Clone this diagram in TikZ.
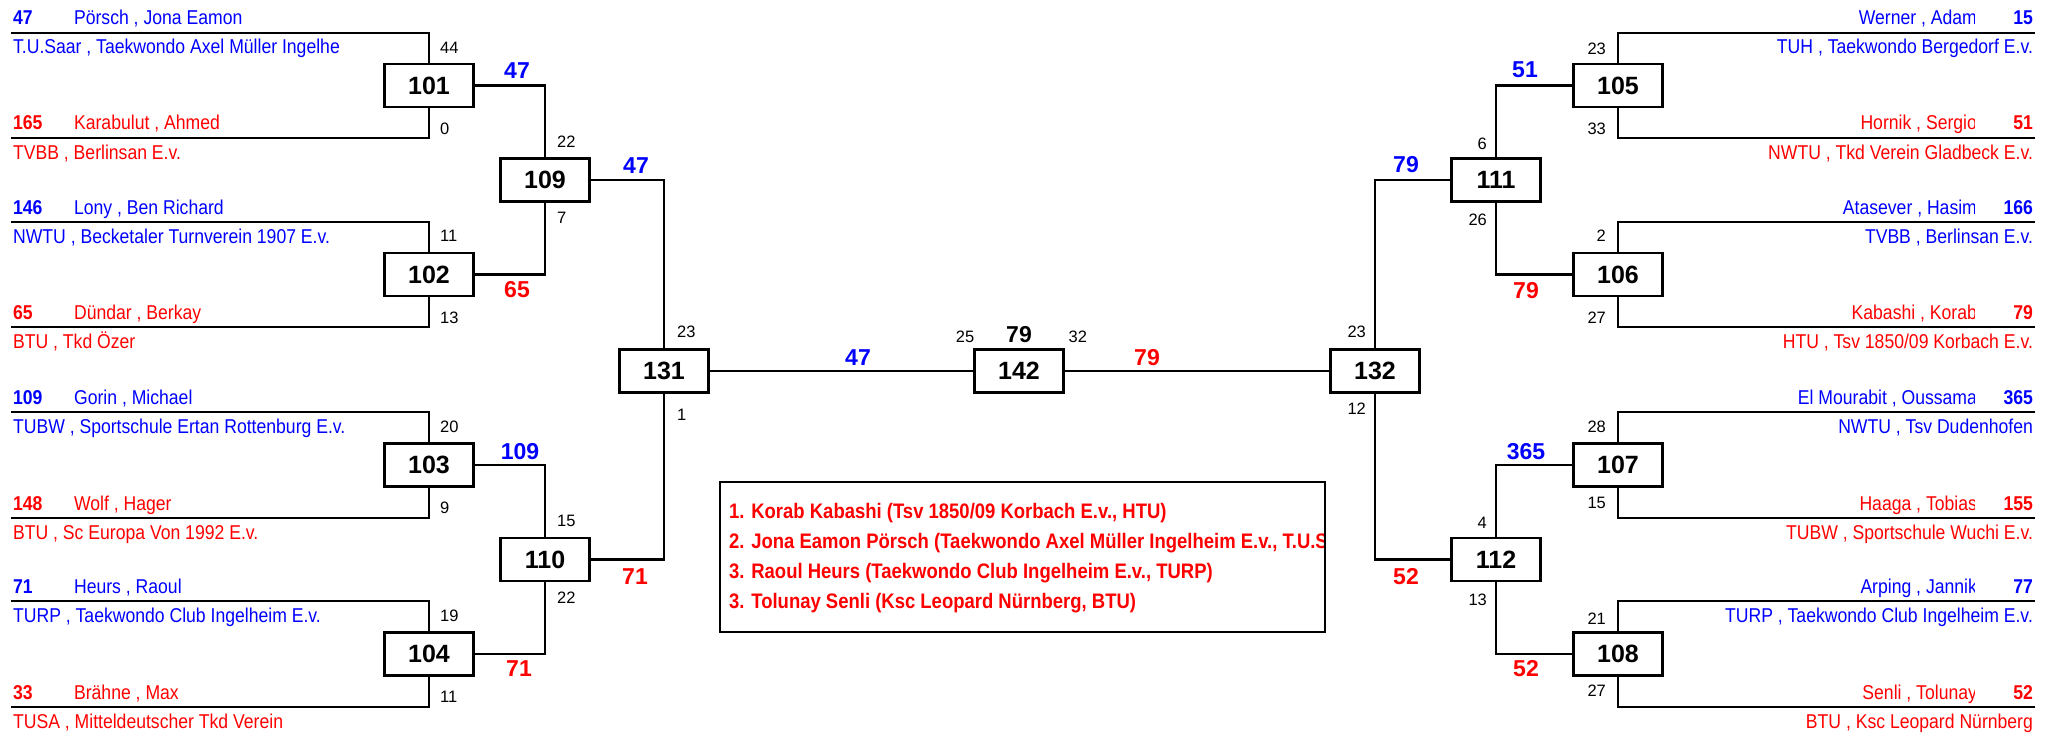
\documentclass[tikz,border=0pt]{standalone}
\usepackage{fontspec}
\setmainfont{Liberation Sans}
\newfontfamily\schmal{Liberation Sans}[FakeStretch=0.88]
\usetikzlibrary{calc}

\begin{document}
\begin{tikzpicture}[x=1pt, y=-1pt, line width=2.2pt,
    kampf/.style={draw, fill=white, minimum width=89pt, minimum height=43pt, inner sep=0pt,
        font=\fontsize{25}{26}\selectfont\bfseries},
    startnr/.style={inner sep=0pt, font=\schmal\fontsize{20}{22}\selectfont\bfseries},
    spieler/.style={inner sep=0pt, font=\schmal\fontsize{20}{22}\selectfont},
    punkte/.style={inner sep=0pt, font=\fontsize{16.5}{18}\selectfont},
    sieger/.style={inner sep=0pt, anchor=base, font=\fontsize{23}{24}\selectfont\bfseries},
    platz/.style={inner sep=0pt, anchor=base west, text=red,
        font=\schmal\fontsize{21}{24}\selectfont\bfseries}]
    \useasboundingbox (0,0) rectangle (2058,733);
    % Spalten der Kampfnummern
    \def\xa{429}
    \def\xb{545}
    \def\xc{664}
    \def\xf{1019}
    \def\xC{1375}
    \def\xB{1496}
    \def\xA{1618}

    % --- KAEMPFE ---
    \node[kampf] (m101) at (\xa,85.5) {101};
    \node[kampf] (m102) at (\xa,274.5) {102};
    \node[kampf] (m103) at (\xa,465) {103};
    \node[kampf] (m104) at (\xa,654) {104};
    \node[kampf] (m109) at (\xb,180) {109};
    \node[kampf] (m110) at (\xb,559.5) {110};
    \node[kampf] (m131) at (\xc,371) {131};
    \node[kampf] (m142) at (\xf,371) {142};
    \node[kampf] (m132) at (\xC,371) {132};
    \node[kampf] (m111) at (\xB,180) {111};
    \node[kampf] (m112) at (\xB,559.5) {112};
    \node[kampf] (m105) at (\xA,85.5) {105};
    \node[kampf] (m106) at (\xA,274.5) {106};
    \node[kampf] (m107) at (\xA,465) {107};
    \node[kampf] (m108) at (\xA,654) {108};

    % --- LINKE SEITE: Teilnehmer ---
    \coordinate (l1) at (11,33);
    \coordinate (l2) at (11,138);
    \coordinate (l3) at (11,222);
    \coordinate (l4) at (11,327);
    \coordinate (l5) at (11,412);
    \coordinate (l6) at (11,518);
    \coordinate (l7) at (11,601);
    \coordinate (l8) at (11,707);
    \draw (l1) -| (m101.north);
    \draw (l2) -| (m101.south);
    \draw (l3) -| (m102.north);
    \draw (l4) -| (m102.south);
    \draw (l5) -| (m103.north);
    \draw (l6) -| (m103.south);
    \draw (l7) -| (m104.north);
    \draw (l8) -| (m104.south);

    \node[startnr, anchor=base west, text=blue] (s1) at (12,25) {47};
    \node[spieler, anchor=base west, text=blue] (n1) at (73,25) {Pörsch , Jona Eamon};
    \node[spieler, anchor=base west, text=blue] (v1) at (12,54) {T.U.Saar , Taekwondo Axel Müller Ingelhe};
    \node[startnr, anchor=base west, text=red] (s2) at (12,130) {165};
    \node[spieler, anchor=base west, text=red] (n2) at (73,130) {Karabulut , Ahmed};
    \node[spieler, anchor=base west, text=red] (v2) at (12,159) {TVBB , Berlinsan E.v.};
    \node[startnr, anchor=base west, text=blue] (s3) at (12,214) {146};
    \node[spieler, anchor=base west, text=blue] (n3) at (73,214) {Lony , Ben Richard};
    \node[spieler, anchor=base west, text=blue] (v3) at (12,243) {NWTU , Becketaler Turnverein 1907 E.v.};
    \node[startnr, anchor=base west, text=red] (s4) at (12,319) {65};
    \node[spieler, anchor=base west, text=red] (n4) at (73,319) {Dündar , Berkay};
    \node[spieler, anchor=base west, text=red] (v4) at (12,348) {BTU , Tkd Özer};
    \node[startnr, anchor=base west, text=blue] (s5) at (12,404) {109};
    \node[spieler, anchor=base west, text=blue] (n5) at (73,404) {Gorin , Michael};
    \node[spieler, anchor=base west, text=blue] (v5) at (12,433) {TUBW , Sportschule Ertan Rottenburg E.v.};
    \node[startnr, anchor=base west, text=red] (s6) at (12,510) {148};
    \node[spieler, anchor=base west, text=red] (n6) at (73,510) {Wolf , Hager};
    \node[spieler, anchor=base west, text=red] (v6) at (12,539) {BTU , Sc Europa Von 1992 E.v.};
    \node[startnr, anchor=base west, text=blue] (s7) at (12,593) {71};
    \node[spieler, anchor=base west, text=blue] (n7) at (73,593) {Heurs , Raoul};
    \node[spieler, anchor=base west, text=blue] (v7) at (12,622) {TURP , Taekwondo Club Ingelheim E.v.};
    \node[startnr, anchor=base west, text=red] (s8) at (12,699) {33};
    \node[spieler, anchor=base west, text=red] (n8) at (73,699) {Brähne , Max};
    \node[spieler, anchor=base west, text=red] (v8) at (12,728) {TUSA , Mitteldeutscher Tkd Verein};

    % --- RECHTE SEITE: Teilnehmer ---
    \coordinate (r1) at (2035,33);
    \coordinate (r2) at (2035,138);
    \coordinate (r3) at (2035,222);
    \coordinate (r4) at (2035,327);
    \coordinate (r5) at (2035,412);
    \coordinate (r6) at (2035,518);
    \coordinate (r7) at (2035,601);
    \coordinate (r8) at (2035,707);
    \draw (r1) -| (m105.north);
    \draw (r2) -| (m105.south);
    \draw (r3) -| (m106.north);
    \draw (r4) -| (m106.south);
    \draw (r5) -| (m107.north);
    \draw (r6) -| (m107.south);
    \draw (r7) -| (m108.north);
    \draw (r8) -| (m108.south);

    \node[startnr, anchor=base east, text=blue] (t1) at (2034,25) {15};
    \node[spieler, anchor=base east, text=blue] (w1) at (2034,54) {TUH , Taekwondo Bergedorf E.v.};
    \node[startnr, anchor=base east, text=red] (t2) at (2034,130) {51};
    \node[spieler, anchor=base east, text=red] (w2) at (2034,159) {NWTU , Tkd Verein Gladbeck E.v.};
    \node[startnr, anchor=base east, text=blue] (t3) at (2034,214) {166};
    \node[spieler, anchor=base east, text=blue] (w3) at (2034,243) {TVBB , Berlinsan E.v.};
    \node[startnr, anchor=base east, text=red] (t4) at (2034,319) {79};
    \node[spieler, anchor=base east, text=red] (w4) at (2034,348) {HTU , Tsv 1850/09 Korbach E.v.};
    \node[startnr, anchor=base east, text=blue] (t5) at (2034,404) {365};
    \node[spieler, anchor=base east, text=blue] (w5) at (2034,433) {NWTU , Tsv Dudenhofen};
    \node[startnr, anchor=base east, text=red] (t6) at (2034,510) {155};
    \node[spieler, anchor=base east, text=red] (w6) at (2034,539) {TUBW , Sportschule Wuchi E.v.};
    \node[startnr, anchor=base east, text=blue] (t7) at (2034,593) {77};
    \node[spieler, anchor=base east, text=blue] (w7) at (2034,622) {TURP , Taekwondo Club Ingelheim E.v.};
    \node[startnr, anchor=base east, text=red] (t8) at (2034,699) {52};
    \node[spieler, anchor=base east, text=red] (w8) at (2034,728) {BTU , Ksc Leopard Nürnberg};
    % Namen rechts werden abgeschnitten
    \begin{scope}
        \clip (1700,0) rectangle (1974,733);
        \node[spieler, anchor=base east, text=blue] (k1) at (1978,25) {Werner , Adam};
        \node[spieler, anchor=base east, text=red] (k2) at (1978,130) {Hornik , Sergio};
        \node[spieler, anchor=base east, text=blue] (k3) at (1978,214) {Atasever , Hasim};
        \node[spieler, anchor=base east, text=red] (k4) at (1978,319) {Kabashi , Korab};
        \node[spieler, anchor=base east, text=blue] (k5) at (1978,404) {El Mourabit , Oussama};
        \node[spieler, anchor=base east, text=red] (k6) at (1978,510) {Haaga , Tobias};
        \node[spieler, anchor=base east, text=blue] (k7) at (1978,593) {Arping , Jannik};
        \node[spieler, anchor=base east, text=red] (k8) at (1978,699) {Senli , Tolunay};
    \end{scope}

    % --- VERBINDUNGEN ---
    \draw (m101.east) -| (m109.north);
    \draw (m102.east) -| (m109.south);
    \draw (m103.east) -| (m110.north);
    \draw (m104.east) -| (m110.south);
    \draw (m109.east) -| (m131.north);
    \draw (m110.east) -| (m131.south);
    \draw (m131.east) -- (m142.west);
    \draw (m142.east) -- (m132.west);
    \draw (m111.west) -| (m132.north);
    \draw (m112.west) -| (m132.south);
    \draw (m105.west) -| (m111.north);
    \draw (m106.west) -| (m111.south);
    \draw (m107.west) -| (m112.north);
    \draw (m108.west) -| (m112.south);

    % Sieger (oben) und Verlierer (unten)
    \node[sieger, text=blue] (g101) at (517,79) {47};
    \node[sieger, text=red] (g102) at (517,297) {65};
    \node[sieger, text=blue] (g103) at (520,459) {109};
    \node[sieger, text=red] (g104) at (519,676) {71};
    \node[sieger, text=blue] (g109) at (636,173) {47};
    \node[sieger, text=red] (g110) at (635,584) {71};
    \node[sieger, text=blue] (g131) at (858,365) {47};
    \node[sieger, text=red] (g132) at (1147,365) {79};
    \node[sieger] (g142) at (\xf,342) {79};
    \node[sieger, text=blue] (g111) at (1406,172) {79};
    \node[sieger, text=red] (g112) at (1406,584) {52};
    \node[sieger, text=blue] (g105) at (1525,78) {51};
    \node[sieger, text=red] (g106) at (1526,298) {79};
    \node[sieger, text=blue] (g107) at (1526,459) {365};
    \node[sieger, text=red] (g108) at (1526,676) {52};

    % --- PUNKTE ---
    \node[punkte, anchor=base west] (p101a) at ($(m101.north)+(10,-9)$) {44};
    \node[punkte, anchor=base west] (p101b) at ($(m101.south)+(10,26)$) {0};
    \node[punkte, anchor=base west] (p102a) at ($(m102.north)+(10,-10)$) {11};
    \node[punkte, anchor=base west] (p102b) at ($(m102.south)+(10,26)$) {13};
    \node[punkte, anchor=base west] (p103a) at ($(m103.north)+(10,-10)$) {20};
    \node[punkte, anchor=base west] (p103b) at ($(m103.south)+(10,26)$) {9};
    \node[punkte, anchor=base west] (p104a) at ($(m104.north)+(10,-10)$) {19};
    \node[punkte, anchor=base west] (p104b) at ($(m104.south)+(10,26)$) {11};
    \node[punkte, anchor=base west] (p109a) at ($(m109.north)+(11,-10)$) {22};
    \node[punkte, anchor=base west] (p109b) at ($(m109.south)+(11,21)$) {7};
    \node[punkte, anchor=base west] (p110a) at ($(m110.north)+(11,-10)$) {15};
    \node[punkte, anchor=base west] (p110b) at ($(m110.south)+(11,21)$) {22};
    \node[punkte, anchor=base west] (p131a) at ($(m131.north)+(12,-11)$) {23};
    \node[punkte, anchor=base west] (p131b) at ($(m131.south)+(12,27)$) {1};
    \node[punkte, anchor=base east] (p142a) at ($(m142.north west)+(2,-6)$) {25};
    \node[punkte, anchor=base west] (p142b) at ($(m142.north east)+(3,-6)$) {32};
    \node[punkte, anchor=base east] (p132a) at ($(m132.north)+(-8,-11)$) {23};
    \node[punkte, anchor=base east] (p132b) at ($(m132.south)+(-8,21)$) {12};
    \node[punkte, anchor=base east] (p111a) at ($(m111.north)+(-8,-8)$) {6};
    \node[punkte, anchor=base east] (p111b) at ($(m111.south)+(-8,23)$) {26};
    \node[punkte, anchor=base east] (p112a) at ($(m112.north)+(-8,-8)$) {4};
    \node[punkte, anchor=base east] (p112b) at ($(m112.south)+(-8,23)$) {13};
    \node[punkte, anchor=base east] (p105a) at ($(m105.north)+(-11,-8)$) {23};
    \node[punkte, anchor=base east] (p105b) at ($(m105.south)+(-11,26)$) {33};
    \node[punkte, anchor=base east] (p106a) at ($(m106.north)+(-11,-10)$) {2};
    \node[punkte, anchor=base east] (p106b) at ($(m106.south)+(-11,26)$) {27};
    \node[punkte, anchor=base east] (p107a) at ($(m107.north)+(-11,-10)$) {28};
    \node[punkte, anchor=base east] (p107b) at ($(m107.south)+(-11,21)$) {15};
    \node[punkte, anchor=base east] (p108a) at ($(m108.north)+(-11,-7)$) {21};
    \node[punkte, anchor=base east] (p108b) at ($(m108.south)+(-11,20)$) {27};

    % --- PLATZIERUNGEN ---
    \begin{scope}
        \clip (720,482) rectangle (1323,632);
        \node[platz] (pl1) at (728,518) {1. Korab Kabashi (Tsv 1850/09 Korbach E.v., HTU)};
        \node[platz] (pl2) at (728,548) {2. Jona Eamon Pörsch (Taekwondo Axel Müller Ingelheim E.v., T.U.S};
        \node[platz] (pl3) at (728,578) {3. Raoul Heurs (Taekwondo Club Ingelheim E.v., TURP)};
        \node[platz] (pl4) at (728,608) {3. Tolunay Senli (Ksc Leopard Nürnberg, BTU)};
    \end{scope}
    \draw (720,482) rectangle (1325,632);
\end{tikzpicture}
\end{document}
